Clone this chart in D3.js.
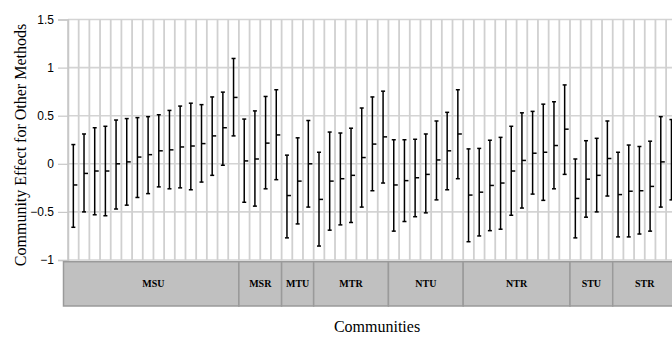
<!DOCTYPE html>
<html>
<head>
<meta charset="utf-8">
<script src="https://cdn.jsdelivr.net/npm/d3@7"></script>
<style>
  body { margin: 0; background: white; }
</style>
</head>
<body>
<script>
// groups of communities along the bottom
const groups = ["MSU", "MSR", "MTU", "MTR", "NTU", "NTR", "STU", "STR"];
const groupSizes = [16, 4, 3, 7, 7, 10, 4, 6];

// error bars: top, centre mark, bottom
const highs = [
  0.20, 0.31, 0.375, 0.39, 0.455, 0.47, 0.48, 0.49, 0.51, 0.555, 0.60, 0.63, 0.615, 0.695, 0.745, 1.095,
  0.465, 0.55, 0.70, 0.77,
  0.09, 0.27, 0.45,
  0.12, 0.33, 0.32, 0.37, 0.58, 0.695, 0.755,
  0.25, 0.25, 0.255, 0.31, 0.445, 0.535, 0.77,
  0.155, 0.16, 0.245, 0.275, 0.39, 0.53, 0.545, 0.62, 0.645, 0.82,
  0.05, 0.24, 0.265, 0.445,
  0.12, 0.195, 0.18, 0.235, 0.49, 0.46
];
const mids = [
  -0.22, -0.10, -0.075, -0.075, 0.00, 0.02, 0.07, 0.095, 0.135, 0.145, 0.175, 0.185, 0.21, 0.29, 0.375, 0.69,
  0.03, 0.05, 0.215, 0.30,
  -0.33, -0.18, 0.00,
  -0.37, -0.18, -0.155, -0.12, 0.065, 0.205, 0.28,
  -0.22, -0.175, -0.145, -0.11, 0.04, 0.135, 0.31,
  -0.325, -0.295, -0.225, -0.20, -0.075, 0.035, 0.11, 0.12, 0.19, 0.36,
  -0.36, -0.16, -0.12, 0.055,
  -0.32, -0.285, -0.28, -0.235, 0.02, 0.04
];
const lows = [
  -0.66, -0.50, -0.53, -0.54, -0.47, -0.43, -0.35, -0.31, -0.24, -0.26, -0.25, -0.27, -0.19, -0.12, -0.015, 0.29,
  -0.40, -0.44, -0.26, -0.165,
  -0.77, -0.625, -0.45,
  -0.855, -0.69, -0.635, -0.61, -0.45, -0.28, -0.20,
  -0.70, -0.60, -0.55, -0.51, -0.375, -0.27, -0.155,
  -0.81, -0.75, -0.695, -0.68, -0.535, -0.46, -0.315, -0.38, -0.26, -0.11,
  -0.77, -0.555, -0.50, -0.335,
  -0.76, -0.76, -0.73, -0.70, -0.45, -0.375
];
const yTicks = [-1, -0.5, 0, 0.5, 1, 1.5];

const width = 672;
const height = 338;

const plotLeft = 68;
const plotRight = 676.8;
const plotTop = 19.5;
const plotBottom = 260;

const boxTop = 261.7;
const boxBottom = 306;

const svg = d3
  .select("body")
  .append("svg")
  .attr("width", width)
  .attr("height", height);

svg
  .append("rect")
  .attr("width", "100%")
  .attr("height", "100%")
  .attr("fill", "white");

const data = highs.map(function (h, i) {
  return { index: i, high: h, mid: mids[i], low: lows[i] };
});

const x = d3
  .scaleBand()
  .domain(d3.range(data.length))
  .range([plotLeft, plotRight])
  .padding(0);

const y = d3.scaleLinear().domain([-1, 1.5]).range([plotBottom, plotTop]);

// horizontal grid lines
svg
  .append("g")
  .selectAll("line")
  .data(yTicks)
  .join("line")
  .attr("x1", plotLeft)
  .attr("x2", plotRight)
  .attr("y1", function (d) {
    return y(d);
  })
  .attr("y2", function (d) {
    return y(d);
  })
  .attr("stroke", "#d4d4d4")
  .attr("stroke-width", 1.6);

// vertical grid lines between the communities
svg
  .append("g")
  .selectAll("line")
  .data(d3.range(data.length + 1))
  .join("line")
  .attr("x1", function (d) {
    return plotLeft + d * x.step();
  })
  .attr("x2", function (d) {
    return plotLeft + d * x.step();
  })
  .attr("y1", plotTop)
  .attr("y2", plotBottom)
  .attr("stroke", "#d0d0d0")
  .attr("stroke-width", 1.8);

// Y axis
const yAxis = d3
  .axisLeft(y)
  .tickValues(yTicks)
  .tickSize(10)
  .tickPadding(4)
  .tickFormat(d3.format("~g"));

const yAxisG = svg
  .append("g")
  .attr("transform", "translate(" + plotLeft + ",0)")
  .call(yAxis);
yAxisG.select(".domain").attr("stroke", "#c8c8c8").attr("stroke-width", 1.5);
yAxisG.selectAll(".tick line").attr("stroke", "#c8c8c8").attr("stroke-width", 1.2);
yAxisG
  .selectAll(".tick text")
  .attr("fill", "#000")
  .style("font-family", "'Liberation Sans', Arial, sans-serif")
  .style("font-size", "12px");

svg
  .append("text")
  .attr("text-anchor", "middle")
  .attr("transform", "translate(26,145) rotate(-90)")
  .style("font-family", "'Liberation Serif', 'Times New Roman', serif")
  .style("font-size", "16px")
  .text("Community Effect for Other Methods");

// error bars
const bars = svg
  .append("g")
  .selectAll("g")
  .data(data)
  .join("g")
  .attr("transform", function (d) {
    return "translate(" + (x(d.index) + x.bandwidth() / 2) + ",0)";
  })
  .attr("stroke", "#000")
  .attr("stroke-width", 1.5);

bars
  .append("line")
  .attr("x1", 0)
  .attr("x2", 0)
  .attr("y1", function (d) {
    return y(d.high);
  })
  .attr("y2", function (d) {
    return y(d.low);
  });

bars
  .append("line")
  .attr("x1", -2)
  .attr("x2", 2)
  .attr("y1", function (d) {
    return y(d.high);
  })
  .attr("y2", function (d) {
    return y(d.high);
  });

bars
  .append("line")
  .attr("x1", -2)
  .attr("x2", 2)
  .attr("y1", function (d) {
    return y(d.low);
  })
  .attr("y2", function (d) {
    return y(d.low);
  });

bars
  .append("line")
  .attr("x1", 0)
  .attr("x2", 4)
  .attr("y1", function (d) {
    return y(d.mid);
  })
  .attr("y2", function (d) {
    return y(d.mid);
  });

// group boxes below the plot
let start = 0;
const boxes = groups.map(function (g, i) {
  const b = { name: g, first: start, last: start + groupSizes[i] - 1 };
  start += groupSizes[i];
  return b;
});

const boxG = svg
  .append("g")
  .selectAll("g")
  .data(boxes)
  .join("g");

boxG
  .append("rect")
  .attr("x", function (d, i) {
    return i === 0 ? plotLeft - 4.5 : x(d.first);
  })
  .attr("y", boxTop)
  .attr("width", function (d, i) {
    const x0 = i === 0 ? plotLeft - 4.5 : x(d.first);
    return x(d.last) + x.bandwidth() - x0;
  })
  .attr("height", boxBottom - boxTop)
  .attr("fill", "#c0c0c0")
  .attr("stroke", "#9a9a9a")
  .attr("stroke-width", 1.5);

boxG
  .append("text")
  .attr("x", function (d) {
    return (x(d.first) + x(d.last) + x.bandwidth()) / 2;
  })
  .attr("y", (boxTop + boxBottom) / 2 + 3.5)
  .attr("text-anchor", "middle")
  .style("font-family", "'Liberation Serif', 'Times New Roman', serif")
  .style("font-weight", "bold")
  .style("font-size", "10px")
  .text(function (d) {
    return d.name;
  });

svg
  .append("text")
  .attr("text-anchor", "middle")
  .attr("x", 377)
  .attr("y", 332)
  .style("font-family", "'Liberation Serif', 'Times New Roman', serif")
  .style("font-size", "16px")
  .text("Communities");
</script>
</body>
</html>
